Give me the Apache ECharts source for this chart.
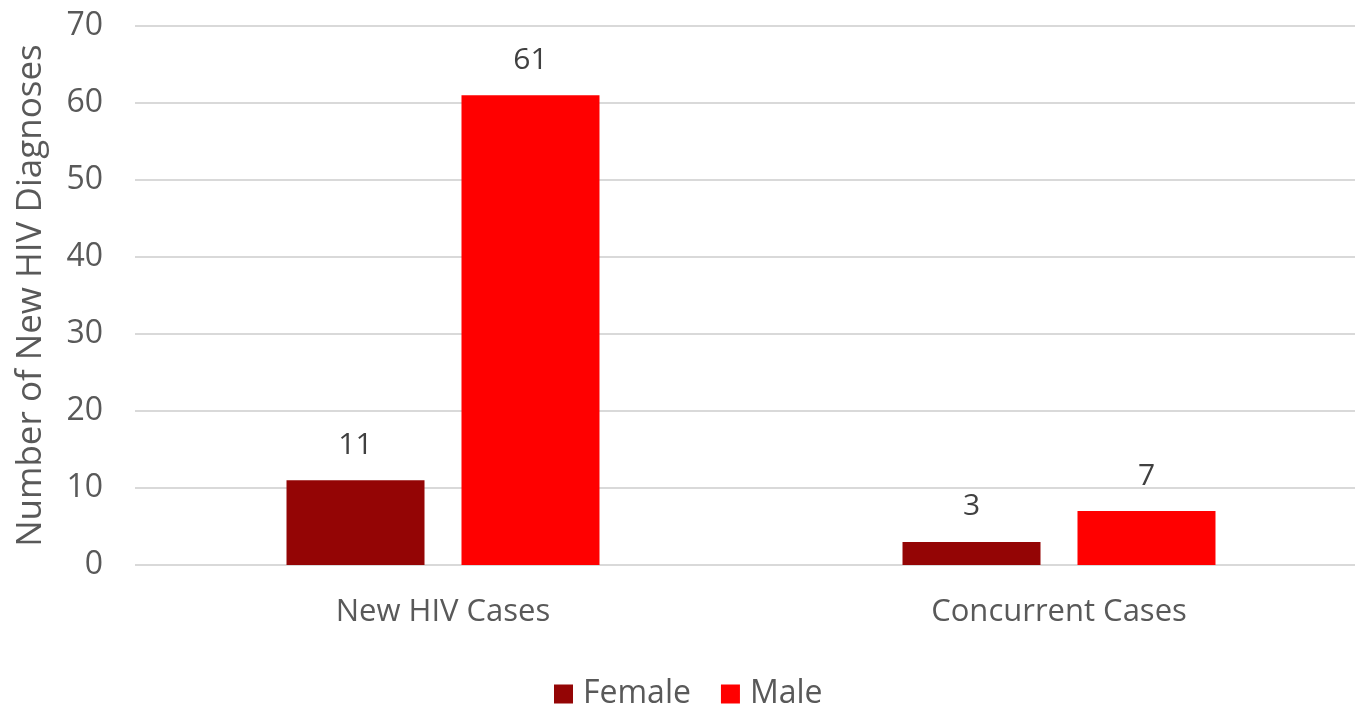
<!DOCTYPE html>
<html><head><meta charset="utf-8">
<script src="https://cdn.jsdelivr.net/npm/echarts@6/dist/echarts.min.js"></script>
<style>html,body{margin:0;padding:0;background:#fff}#c{width:1355px;height:707px}</style>
</head><body><div id="c"></div>
<script>
const categories = ['New HIV Cases', 'Concurrent Cases'];
const femaleValues = [11, 3];
const maleValues = [61, 7];
const seriesNames = ['Female', 'Male'];
const yAxisTitle = 'Number of New HIV Diagnoses';

const FONT = '"Open Sans", sans-serif';
const chart = echarts.init(document.getElementById('c'), null, {renderer: 'canvas'});
const labelStyle = {show: true, position: 'top', distance: 20, color: '#404040', fontSize: 30, fontFamily: FONT};
chart.setOption({
  animation: false,
  grid: {left: 135, width: 1232, top: 26, bottom: 142, containLabel: false, outerBoundsMode: 'none'},
  legend: {
    data: seriesNames, top: 673, left: 549, itemWidth: 19, itemHeight: 19, itemGap: 30,
    textStyle: {color: '#595959', fontSize: 32, fontFamily: FONT, padding: [0, 0, 0, 5]},
    icon: 'rect'
  },
  xAxis: {
    type: 'category', data: categories,
    axisLine: {show: false}, axisTick: {show: false},
    axisLabel: {color: '#595959', fontSize: 31, fontFamily: FONT, margin: 32}
  },
  yAxis: {
    type: 'value', min: 0, max: 70, interval: 10,
    name: yAxisTitle, nameLocation: 'middle', nameGap: 86,
    nameTextStyle: {color: '#595959', fontSize: 35, fontFamily: FONT},
    axisLine: {show: false}, axisTick: {show: false},
    axisLabel: {color: '#595959', fontSize: 32, fontFamily: FONT, margin: 32},
    splitLine: {lineStyle: {color: '#d9d9d9', width: 2}}
  },
  series: [
    {name: seriesNames[0], type: 'bar', data: femaleValues, barWidth: 138, barGap: '26.8%',
     itemStyle: {color: '#940505'}, label: labelStyle},
    {name: seriesNames[1], type: 'bar', data: maleValues, barWidth: 138,
     itemStyle: {color: '#ff0000'}, label: labelStyle}
  ]
});
</script></body></html>
